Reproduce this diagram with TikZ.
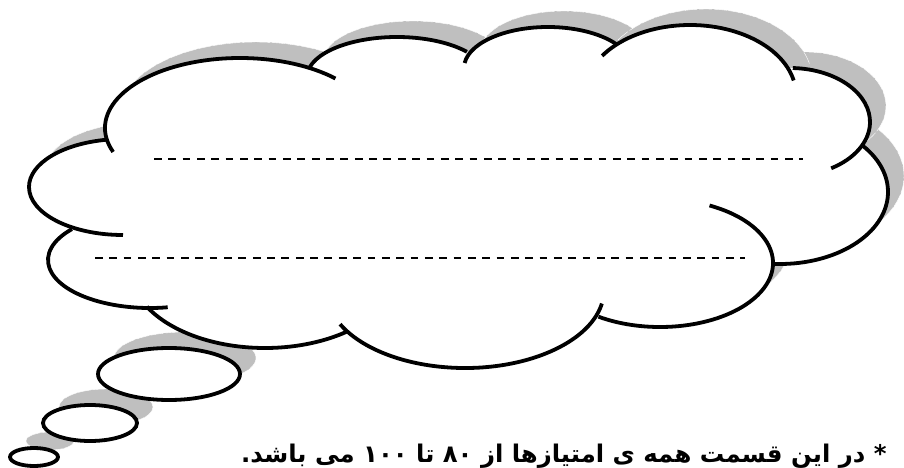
\documentclass[tikz,border=0pt]{standalone}
\usepackage{fontspec}
\newfontfamily\arabicfont[Script=Arabic]{DejaVu Sans}
\TeXXeTstate=1
\begin{document}
\begin{tikzpicture}[x=0.025cm, y=-0.025cm]

% definitions
\tikzstyle{outline} = [draw=black, line width=2.7pt]
\tikzstyle{shadow} = [fill=black!25]
\tikzstyle{shadowedge} = [draw=white, line width=0.3pt, dash pattern=on 9pt off 1.5pt]
\tikzstyle{ruleline} = [draw=black, line width=1.2pt, dash pattern=on 5.5pt off 4.7pt]
\tikzstyle{note} = [anchor=base east, inner sep=0pt, font=\arabicfont\bfseries\fontsize{17.3}{20}\selectfont]

% lobes: centre x/centre y/x radius/y radius/start/end
\def\lobes{123/187/94/48/90/260, 240/128/135/70/160/315, 397/77/90/40/194/321,
  548/68/84/41/187/325, 690/95/106/70/214/348, 790/122/80/54/272/419,
  780/192/108/72/320/453, 660/263/113/64/296/483, 465/290/139/78/10/154,
  265/268/135/80/53/151, 150/260/102/48/80/220}
\def\bubbles{169/374/71/26, 90/423/47/18, 34/457/24/9}

\useasboundingbox (0,0) rectangle (904,468);

% the shadow
\begin{scope}[shift={(16,-16)}]
\foreach \cx/\cy/\rx/\ry/\ta/\tb in \lobes
  \fill[shadow] (\cx,\cy) ellipse [x radius=\rx, y radius=\ry];
\fill[shadow] (123,187) -- (240,128) -- (397,77) -- (548,68) -- (690,95) -- (790,122)
  -- (780,192) -- (660,263) -- (465,290) -- (265,268) -- (150,260) -- cycle;
\foreach \bx/\by/\brx/\bry in \bubbles
  \fill[shadow] (\bx,\by) ellipse [x radius=\brx, y radius=\bry];
\foreach \cx/\cy/\rx/\ry/\ta/\tb in \lobes
  \draw[shadowedge] (\cx,\cy) ++(\ta:{\rx} and {\ry}) arc [start angle=\ta, end angle=\tb, x radius=\rx, y radius=\ry];
\foreach \bx/\by/\brx/\bry in \bubbles
  \draw[shadowedge] (\bx,\by) ellipse [x radius=\brx, y radius=\bry];
\end{scope}

% the cloud
\foreach \cx/\cy/\rx/\ry/\ta/\tb in \lobes
  \fill[white] (\cx,\cy) ellipse [x radius=\rx, y radius=\ry];
\fill[white] (123,187) -- (240,128) -- (397,77) -- (548,68) -- (690,95) -- (790,122)
  -- (780,192) -- (660,263) -- (465,290) -- (265,268) -- (150,260) -- cycle;
\foreach \cx/\cy/\rx/\ry/\ta/\tb in \lobes
  \draw[outline] (\cx,\cy) ++(\ta:{\rx} and {\ry}) arc [start angle=\ta, end angle=\tb, x radius=\rx, y radius=\ry];

% the bubbles
\foreach \bx/\by/\brx/\bry in \bubbles
  \draw[outline, fill=white] (\bx,\by) ellipse [x radius=\brx, y radius=\bry];

% the lines to write on
\coordinate (top start) at (154,159);
\coordinate (top end) at (803,159);
\coordinate (low start) at (95,258);
\coordinate (low end) at (745,258);
\draw[ruleline] (top start) -- (top end);
\draw[ruleline] (low start) -- (low end);

% the note
\node (remark) [note] at (887,462) {\beginR * در این قسمت همه ی امتیازها از \beginL ۸۰\endL{} تا \beginL ۱۰۰\endL{} می باشد.\endR};

\end{tikzpicture}
\end{document}
